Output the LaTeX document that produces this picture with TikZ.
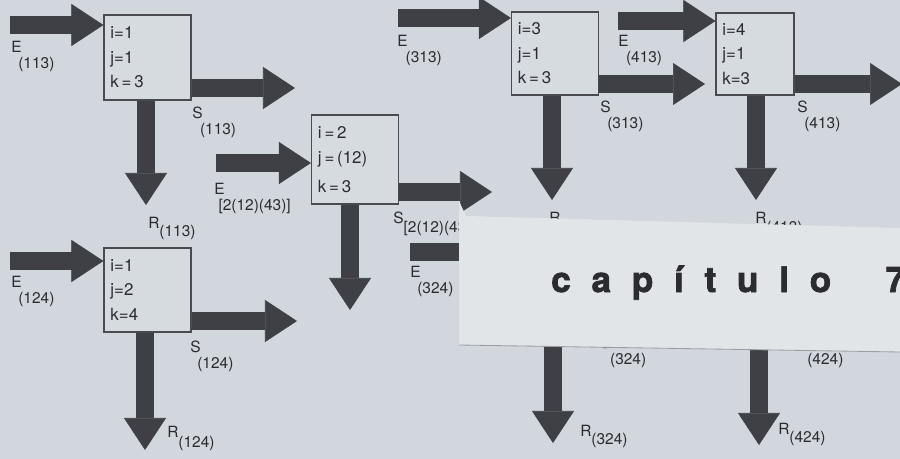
\documentclass[tikz,border=0pt]{standalone}
\usepackage{fontspec}
\setmainfont{TeX Gyre Heros}
\newfontfamily\capfont{texgyreheros-bold.otf}[LetterSpace=59, FakeBold=2]
\usetikzlibrary{arrows.meta,calc}

\definecolor{pgbg}{HTML}{D1D7DD}
\definecolor{pgbox}{HTML}{D6DBE0}
\definecolor{pgline}{HTML}{4A4B50}
\definecolor{pgarrow}{HTML}{3F4045}
\definecolor{pgink}{HTML}{2B2C31}
\definecolor{pgsheet}{HTML}{E2E5E8}
\definecolor{pgedge}{HTML}{9A9EA3}

\begin{document}
\begin{tikzpicture}[
  x=0.025cm, y=-0.025cm,
  box/.style={draw=pgline, line width=0.8pt, fill=pgbox, text=pgink, minimum width=2.175cm,
    minimum height=2.125cm, text width=1.85cm, inner xsep=0.16cm, inner ysep=0pt, align=left,
    font=\fontsize{12}{17.5}\selectfont},
  blk/.style={draw=pgarrow, line width=0.45cm, -{Triangle[width=1.05cm, length=0.8cm, line width=0.4pt]}},
  lbl/.style={anchor=north west, inner sep=0pt, align=left, text=pgink, font=\fontsize{11}{11}\selectfont},
]
  \clip (0,0) rectangle (900,459);
  \fill[pgbg] (0,0) rectangle (900,459);

  % boxes
  \node[box] (b113) at (147.5,57.5) {i=1\\j=1\\k\,=\,3};
  \node[box, minimum height=2.225cm] (b212) at (355,159.5) {i\,=\,2\\j\,=\,(12)\\[3pt]k\,=\,3};
  \node[box, minimum height=2.075cm] (b313) at (555,53.5) {i=3\\j=1\\k\,=\,3};
  \node[box, minimum width=1.95cm, text width=1.63cm, minimum height=2.05cm] (b413) at (755,54) {i=4\\j=1\\k=3};
  \node[box, minimum height=2.1cm] (b124) at (147.5,290) {i=1\\j=2\\k=4};

  % arrow ends
  \coordinate (e113) at (10,25);
  \coordinate (s113) at (295,88);
  \coordinate (r113) at (146,205);
  \coordinate (e212) at (216,163);
  \coordinate (s212) at (492,192);
  \coordinate (r212) at (350,310);
  \coordinate (e313) at (398,18);
  \coordinate (s313) at (705,84);
  \coordinate (r313) at (552,200);
  \coordinate (e413) at (618,21);
  \coordinate (s413) at (902,84);
  \coordinate (r413) at (756,200);
  \coordinate (e124) at (10,261);
  \coordinate (s124) at (297,321);
  \coordinate (r124) at (145,450);
  \coordinate (e324) at (410,252);
  \coordinate (b324w) at (540,252);
  \coordinate (b324s) at (553,330);
  \coordinate (r324) at (553,443);
  \coordinate (b424s) at (759,330);
  \coordinate (r424) at (759,445);

  % arrows
  \draw[blk] (e113) -- (e113 -| b113.west);
  \draw[blk] (s113 -| b113.east) -- (s113);
  \draw[blk] (r113 |- b113.south) -- (r113);
  \draw[blk] (e212) -- (e212 -| b212.west);
  \draw[blk] (s212 -| b212.east) -- (s212);
  \draw[blk] (r212 |- b212.south) -- (r212);
  \draw[blk] (e313) -- (e313 -| b313.west);
  \draw[blk] (s313 -| b313.east) -- (s313);
  \draw[blk] (r313 |- b313.south) -- (r313);
  \draw[blk] (e413) -- (e413 -| b413.west);
  \draw[blk] (s413 -| b413.east) -- (s413);
  \draw[blk] (r413 |- b413.south) -- (r413);
  \draw[blk] (e124) -- (e124 -| b124.west);
  \draw[blk] (s124 -| b124.east) -- (s124);
  \draw[blk] (r124 |- b124.south) -- (r124);
  \draw[blk] (e324) -- (b324w);
  \draw[blk] (b324s) -- (r324);
  \draw[blk] (b424s) -- (r424);

  % labels
  \node[lbl] (le113) at (11,41) {E\\\hspace*{5pt}(113)};
  \node[lbl] (ls113) at (192,107) {S\\\hspace*{5.5pt}(113)};
  \node[lbl] (lr113) at (148,217) {R\raisebox{-6pt}{(113)}};
  \node[lbl] (le212) at (214,183) {E\\\hspace*{3pt}[2(12)(43)]};
  \node[lbl] (ls212) at (393,212) {S\raisebox{-6.5pt}{[2(12)(43)]}};
  \node[lbl] (le324) at (410,266) {E\\\hspace*{5pt}(324)};
  \node[lbl] (le313) at (397,35) {E\\\hspace*{6pt}(313)};
  \node[lbl] (ls313) at (600,101) {S\\\hspace*{5pt}(313)};
  \node[lbl] (lr313) at (549,212) {R\raisebox{-6pt}{(313)}};
  \node[lbl] (le413) at (618,35) {E\\\hspace*{5.5pt}(413)};
  \node[lbl] (ls413) at (797,101) {S\\\hspace*{5pt}(413)};
  \node[lbl] (lr413) at (755,212) {R\raisebox{-6.5pt}{(413)}};
  \node[lbl] (le124) at (11,276) {E\\\hspace*{5pt}(124)};
  \node[lbl] (ls124) at (190,341) {S\\\hspace*{5pt}(124)};
  \node[lbl] (lr124) at (167,426) {R\raisebox{-7pt}{(124)}};
  \node[lbl] (ls324) at (600,337) {S\\\hspace*{7pt}(324)};
  \node[lbl] (lr324) at (580,425) {R\raisebox{-6pt}{(324)}};
  \node[lbl] (ls424) at (800,337) {S\\\hspace*{5pt}(424)};
  \node[lbl] (lr424) at (778,423) {R\raisebox{-6pt}{(424)}};

  % sheet laid over the page
  \fill[pgsheet] (459,201) -- (466,216) -- (900,228) -- (900,352) -- (459,345) -- cycle;
  \draw[pgedge, line width=0.6pt] (459,345) -- (900,352);
  \node[font={\capfont\fontsize{25}{25}\selectfont}, text=pgink, anchor=base west, inner sep=0pt] (cap) at (551,292) {capítulo \hspace{17pt}7};
\end{tikzpicture}
\end{document}
